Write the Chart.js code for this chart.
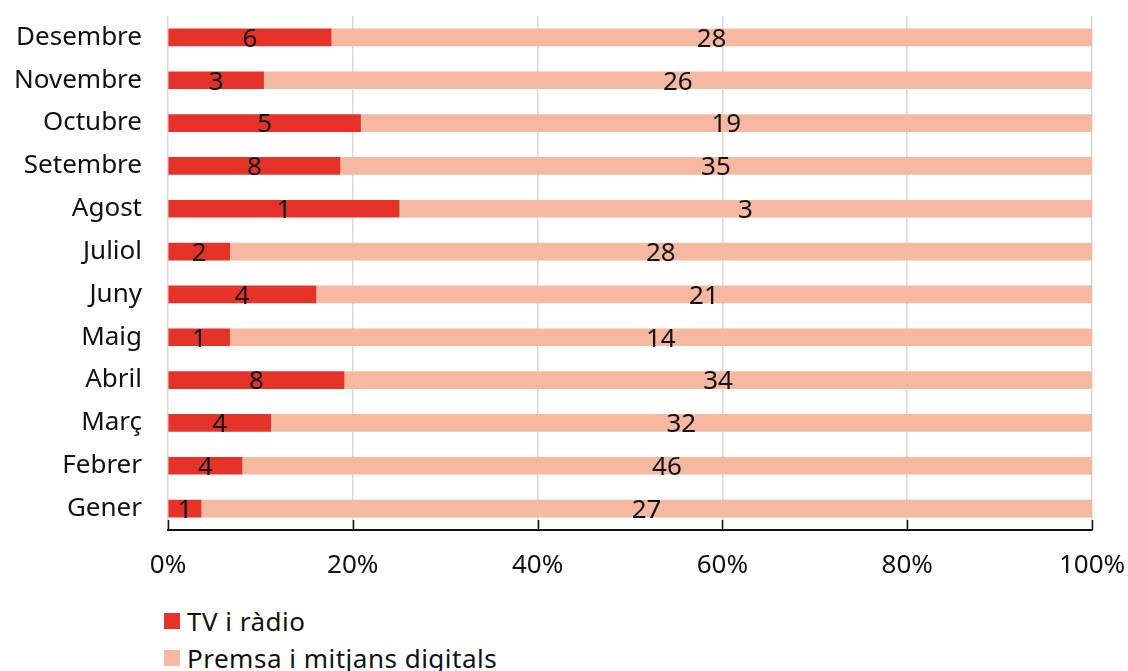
<!DOCTYPE html>
<html>
<head>
<meta charset="utf-8">
<script src="https://cdn.jsdelivr.net/npm/chart.js@4.4.0/dist/chart.umd.min.js"></script>
<style>
    html, body { margin: 0; padding: 0; background: #fff; overflow: hidden; }
    #wrap { position: relative; width: 1128px; height: 590px; }
    #legend { font-family: "Noto Sans", sans-serif; font-size: 26px; letter-spacing: 0.5px; color: #111; margin-left: 164px; margin-top: 12px; }
    .item { display: flex; align-items: center; height: 37px; }
    .box { width: 16px; height: 16px; margin-right: 7px; }
</style>
</head>
<body>
<div id="wrap"><canvas id="chartMedia"></canvas></div>
<div id="legend"></div>
<script>
const MONTHS = ["Gener", "Febrer", "Març", "Abril", "Maig", "Juny",
    "Juliol", "Agost", "Setembre", "Octubre", "Novembre", "Desembre"];
const tvRadio = [1, 4, 4, 8, 1, 4, 2, 1, 8, 5, 3, 6];
const premsaDigital = [27, 46, 32, 34, 14, 21, 28, 3, 35, 19, 26, 28];
const X_TICKS = [0, 20, 40, 60, 80, 100];

const SERIES_NAMES = ['TV i ràdio', 'Premsa i mitjans digitals'];
const COLORS = ["#E63329", "#F6B8A0"];
const FONT = '"Noto Sans", sans-serif';

function share(part, i) {
    return part[i] / (tvRadio[i] + premsaDigital[i]) * 100;
}

// numbers inside the segments show the raw counts
const countLabels = {
    id: 'countLabels',
    afterDatasetsDraw(chart) {
        const ctx = chart.ctx;
        ctx.save();
        ctx.font = '26px ' + FONT;
        ctx.fillStyle = '#111';
        ctx.textAlign = 'center';
        ctx.textBaseline = 'middle';
        chart.data.datasets.forEach((ds, di) => {
            chart.getDatasetMeta(di).data.forEach((bar, i) => {
                ctx.fillText(ds.counts[i], (bar.x + bar.base) / 2, bar.y + 2);
            });
        });
        ctx.restore();
    }
};

// short dark tick marks sitting on top of the x axis
const innerTicks = {
    id: 'innerTicks',
    afterDraw(chart) {
        const x = chart.scales.x;
        const ctx = chart.ctx;
        ctx.save();
        ctx.strokeStyle = '#111';
        ctx.lineWidth = 1.5;
        X_TICKS.forEach(v => {
            const px = Math.round(x.getPixelForValue(v)) + 0.5;
            ctx.beginPath();
            ctx.moveTo(px, x.top - 10);
            ctx.lineTo(px, x.top);
            ctx.stroke();
        });
        ctx.restore();
    }
};

const data = {
    labels: MONTHS,
    datasets: [{
        label: SERIES_NAMES[0],
        data: MONTHS.map((m, i) => share(tvRadio, i)),
        counts: tvRadio,
        backgroundColor: COLORS[0],
    },
    {
        label: SERIES_NAMES[1],
        data: MONTHS.map((m, i) => share(premsaDigital, i)),
        counts: premsaDigital,
        backgroundColor: COLORS[1],
    }]
};

const config = {
    type: 'bar',
    data: data,
    options: {
        indexAxis: 'y',
        responsive: true,
        maintainAspectRatio: false,
        animation: false,
        barThickness: 17,
        layout: { padding: { top: 16, left: 0, right: 0, bottom: 0 } },
        plugins: {
            legend: { display: false },
            tooltip: { enabled: false },
        },
        scales: {
            x: {
                stacked: true,
                min: 0,
                max: 100,
                afterBuildTicks: (axis) => { axis.ticks = X_TICKS.map(v => ({ value: v })); },
                afterFit: (axis) => {
                    axis.height = 60;
                    axis.paddingLeft = 0;
                    axis.paddingRight = 36;
                },
                ticks: {
                    callback: (v) => v + '%',
                    font: { family: FONT, size: 26 },
                    color: '#111',
                    padding: 20,
                    maxRotation: 0,
                },
                grid: { color: '#d9d9d9', lineWidth: 1.5, drawTicks: false },
                border: { display: true, color: '#111', width: 2 },
            },
            y: {
                stacked: true,
                reverse: true,
                afterFit: (axis) => {
                    axis.width = 168;
                    axis.paddingTop = 0;
                    axis.paddingBottom = 0;
                },
                ticks: {
                    font: { family: FONT, size: 26 },
                    color: '#111',
                    padding: 26,
                },
                grid: { display: false, drawTicks: false },
                border: { display: false },
            }
        }
    },
    plugins: [countLabels, innerTicks]
};

const chartMedia = new Chart(document.getElementById('chartMedia'), config);

const legend = document.getElementById('legend');
SERIES_NAMES.forEach((name, i) => {
    const item = document.createElement('div');
    item.className = 'item';
    const box = document.createElement('span');
    box.className = 'box';
    box.style.background = COLORS[i];
    item.appendChild(box);
    item.appendChild(document.createTextNode(name));
    legend.appendChild(item);
});
</script>
</body>
</html>
